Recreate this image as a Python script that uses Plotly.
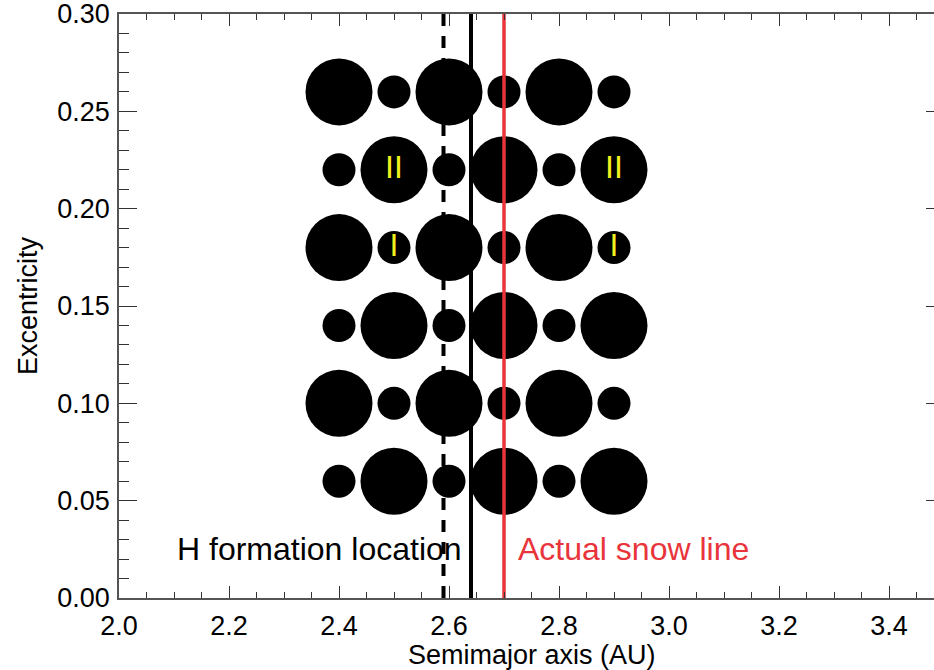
import plotly.graph_objects as go

# ---- data ----
semimajor = [2.4, 2.5, 2.6, 2.7, 2.8, 2.9]
eccentricity = [0.06, 0.10, 0.14, 0.18, 0.22, 0.26]
# 1 = large body, 0 = small body ; one row per eccentricity value
size_class = {
    0.06: [0, 1, 0, 1, 0, 1],
    0.10: [1, 0, 1, 0, 1, 0],
    0.14: [0, 1, 0, 1, 0, 1],
    0.18: [1, 0, 1, 0, 1, 0],
    0.22: [0, 1, 0, 1, 0, 1],
    0.26: [1, 0, 1, 0, 1, 0],
}
label_x = [2.5, 2.9, 2.5, 2.9]
label_y = [0.22, 0.22, 0.18, 0.18]
label_text = ["II", "II", "I", "I"]

h_formation_dashed = 2.59
h_formation_solid = 2.64
actual_snow_line = 2.70

x_ticks = [2.0, 2.2, 2.4, 2.6, 2.8, 3.0, 3.2, 3.4]
y_ticks = [0.00, 0.05, 0.10, 0.15, 0.20, 0.25, 0.30]

# ---- styling ----
FONT = "Liberation Sans, Arial, Helvetica, sans-serif"
BIG, SMALL = 67, 33
RED = "#e8343a"
YELLOW = "#f2ef1e"

xs, ys, sz = [], [], []
for e in eccentricity:
    for a, c in zip(semimajor, size_class[e]):
        xs.append(a)
        ys.append(e)
        sz.append(BIG if c else SMALL)

fig = go.Figure()
fig.add_trace(go.Scatter(x=xs, y=ys, mode="markers",
                         marker=dict(size=sz, color="black", opacity=1,
                                     line=dict(width=0)),
                         hoverinfo="skip", showlegend=False))
fig.add_trace(go.Scatter(x=label_x, y=label_y, mode="text", text=label_text,
                         textfont=dict(family=FONT, size=32, color=YELLOW),
                         hoverinfo="skip", showlegend=False))
fig.add_trace(go.Scatter(x=[h_formation_dashed] * 2, y=[0, 0.30], mode="lines",
                         line=dict(color="black", width=4, dash="12px,10px"),
                         showlegend=False, hoverinfo="skip"))
fig.add_trace(go.Scatter(x=[h_formation_solid] * 2, y=[0, 0.30], mode="lines",
                         line=dict(color="black", width=4),
                         showlegend=False, hoverinfo="skip"))
fig.add_trace(go.Scatter(x=[actual_snow_line] * 2, y=[0, 0.30], mode="lines",
                         line=dict(color=RED, width=3.5),
                         showlegend=False, hoverinfo="skip"))
# invisible trace for the right-hand (mostly off-canvas) axis ticks
fig.add_trace(go.Scatter(x=[None], y=[None], yaxis="y2", showlegend=False,
                         hoverinfo="skip"))

YR = [0, 0.30001]

fig.update_layout(
    width=934, height=670,
    margin=dict(l=119, r=0, t=14, b=72),
    paper_bgcolor="white", plot_bgcolor="white",
    font=dict(family=FONT, color="black"),
    xaxis=dict(range=[2.0, 2.0 + 815 / 550], tickvals=x_ticks, tickformat=".1f",
               ticks="inside", ticklen=12, tickwidth=1, tickcolor="#333",
               minor=dict(dtick=0.05, tick0=2.0, ticks="inside", ticklen=6,
                          tickcolor="#333", showgrid=False),
               showline=True, linecolor="#555", linewidth=1.5, mirror="ticks",
               showgrid=False, zeroline=False, ticklabeloverflow="allow",
               tickfont=dict(size=27), ticklabelstandoff=3),
    yaxis=dict(range=YR, tickvals=y_ticks, tickformat=".2f",
               ticks="inside", ticklen=18, tickwidth=1, tickcolor="#333",
               minor=dict(dtick=0.01, tick0=0, ticks="inside", ticklen=10,
                          tickcolor="#333", showgrid=False),
               showline=True, linecolor="#555", linewidth=1.5, mirror=False,
               showgrid=False, zeroline=False, ticklabeloverflow="allow",
               tickfont=dict(size=27), ticklabelstandoff=2),
    yaxis2=dict(range=YR, overlaying="y", side="right", tickvals=y_ticks,
                ticks="inside", ticklen=8, tickcolor="#333", showticklabels=False,
                showline=False, showgrid=False, zeroline=False),
    annotations=[
        dict(text="H formation location", x=2.102, y=0.025, xref="x", yref="y",
             xanchor="left", yanchor="middle", showarrow=False,
             font=dict(size=32, color="black", family=FONT)),
        dict(text="Actual snow line", x=2.722, y=0.025, xref="x", yref="y",
             xanchor="left", yanchor="middle", showarrow=False,
             font=dict(size=32, color=RED, family=FONT)),
        dict(text="Semimajor axis (AU)", x=2.75, y=0, xref="x", yref="paper",
             yshift=-57, xanchor="center", yanchor="middle", showarrow=False,
             font=dict(size=27, color="black", family=FONT)),
        dict(text="Excentricity", x=0, y=0.15, xref="paper", yref="y",
             xshift=-91, textangle=-90, xanchor="center", yanchor="middle",
             showarrow=False, font=dict(size=27, color="black", family=FONT)),
    ],
)

fig.write_html("out.html")
